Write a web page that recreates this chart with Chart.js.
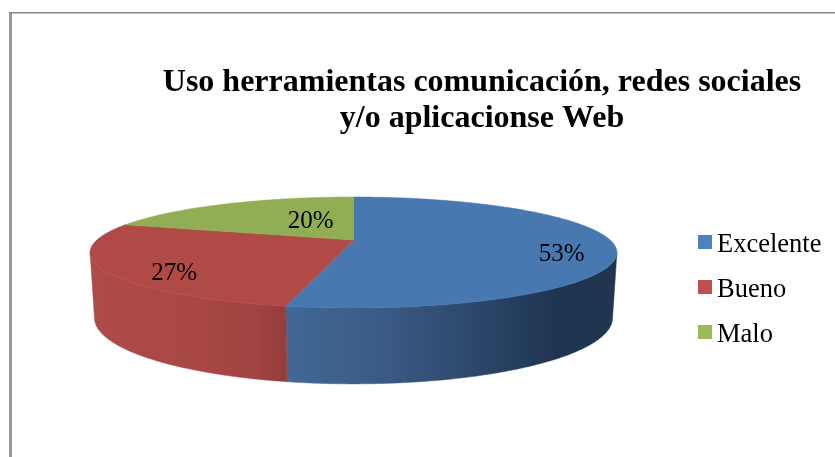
<!DOCTYPE html>
<html><head><meta charset="utf-8">
<style>html,body{margin:0;padding:0;background:#fff}canvas{display:block}</style>
<script src="https://cdn.jsdelivr.net/npm/chart.js@4"></script>
</head><body><canvas id="c" width="835" height="457"></canvas>
<script>
const categories = ["Excelente", "Bueno", "Malo"];
const values = [53.3, 26.7, 20];
const titleLines = ["Uso herramientas comunicación, redes sociales", "y/o aplicacionse Web"];
const legendColors = ["#4f81bd", "#c0504d", "#9bbb59"];
const faceColors = ["#4878b0", "#b04a47", "#92ae54"];
const sideStops = [
  [[0, "#426896"], [0.3, "#3a5a84"], [0.6, "#2b4568"], [0.82, "#1f344f"], [1, "#203650"]],
  [[0, "#ae4b48"], [0.5, "#aa4845"], [0.85, "#a04342"], [1, "#953d3b"]],
  [[0, "#7d9447"], [1, "#7d9447"]]
];
// perspective discs: top face and base of the drum
const topDisc = {cx: 353.5, y0: 240, A: 256.7, B: 52.7, a: 0.225};
const baseDisc = {cx: 353.5, y0: 303, A: 252.4, B: 62.7, a: 0.225};
const labelPlace = [{r: 0.8, dy: 10}, {r: 0.74, dy: 12}, {r: 0.3, dy: -6}];
const legendBox = {x: 698, top: 235, size: 14, step: 45, textX: 717, baseline: 252};

function project(d, ang, r) {
  const u = r * Math.cos(ang), s = r * Math.sin(ang), w = 1 - d.a * s;
  return [d.cx + d.A * u / w, d.y0 + d.B * s / w];
}
const pie3d = {
  id: "pie3d",
  beforeDraw(chart) {
    const g = chart.ctx;
    g.save();
    g.fillStyle = "#fff"; g.fillRect(0, 0, chart.width, chart.height);
    g.fillStyle = "#9a9a9a"; g.fillRect(9, 12, 3, chart.height - 12);
    g.fillStyle = "#8a8a8a"; g.fillRect(9, 12, chart.width - 9, 1.5);
    g.restore();
  },
  beforeDatasetDraw(chart) {
    const g = chart.ctx, arcs = chart.getDatasetMeta(0).data;
    const visA = Math.asin(topDisc.a), visB = Math.PI - visA;
    const step = Math.PI / 360;
    g.save();
    arcs.forEach((arc, i) => {
      const norm = x => { while (x < -Math.PI / 2 - 1e-9) x += 2 * Math.PI; return x; };
      const st = norm(arc.startAngle), en = st + (arc.endAngle - arc.startAngle);
      const ranges = [[visA, visB], [visA + 2 * Math.PI, visB + 2 * Math.PI]];
      ranges.forEach(([lo, hi]) => {
        const a0 = Math.max(st, lo), a1 = Math.min(en, hi);
        if (a1 <= a0) return;
        const pts = [], back = [];
        for (let t = a0; t < a1; t += step) { pts.push(project(topDisc, t, 1)); back.push(project(baseDisc, t, 1)); }
        pts.push(project(topDisc, a1, 1)); back.push(project(baseDisc, a1, 1));
        const xs = pts.concat(back).map(p => p[0]);
        const grad = g.createLinearGradient(Math.min(...xs), 0, Math.max(...xs), 0);
        sideStops[i].forEach(([o, c]) => grad.addColorStop(o, c));
        g.beginPath();
        pts.forEach((p, k) => k ? g.lineTo(p[0], p[1]) : g.moveTo(p[0], p[1]));
        back.reverse().forEach(p => g.lineTo(p[0], p[1]));
        g.closePath();
        g.fillStyle = grad; g.strokeStyle = grad; g.lineWidth = 0.5;
        g.fill(); g.stroke();
      });
    });
    arcs.forEach((arc, i) => {
      g.beginPath();
      const c = project(topDisc, 0, 0);
      g.moveTo(c[0], c[1]);
      for (let t = arc.startAngle; t < arc.endAngle; t += step) {
        const p = project(topDisc, t, 1); g.lineTo(p[0], p[1]);
      }
      const e = project(topDisc, arc.endAngle, 1); g.lineTo(e[0], e[1]);
      g.closePath();
      g.fillStyle = faceColors[i]; g.strokeStyle = faceColors[i]; g.lineWidth = 0.5;
      g.fill(); g.stroke();
    });
    g.fillStyle = "#000";
    g.font = "25px 'Liberation Serif'";
    g.textAlign = "center"; g.textBaseline = "middle";
    const total = values.reduce((a, b) => a + b, 0);
    arcs.forEach((arc, i) => {
      const p = project(topDisc, (arc.startAngle + arc.endAngle) / 2, labelPlace[i].r);
      g.fillText(Math.round(values[i] / total * 100) + "%", p[0], p[1] + labelPlace[i].dy);
    });
    g.restore();
    return false;
  },
  afterDraw(chart) {
    const g = chart.ctx, L = legendBox;
    g.save();
    g.font = "26.5px 'Liberation Serif'";
    g.textAlign = "left"; g.textBaseline = "alphabetic";
    categories.forEach((name, i) => {
      g.fillStyle = legendColors[i];
      g.fillRect(L.x, L.top + i * L.step, L.size, L.size);
      g.fillStyle = "#000";
      g.fillText(name, L.textX, L.baseline + i * L.step);
    });
    g.restore();
  }
};
new Chart(document.getElementById("c"), {
  type: "pie",
  data: {labels: categories, datasets: [{data: values, backgroundColor: legendColors, borderWidth: 0}]},
  options: {
    responsive: false, animation: false, devicePixelRatio: 1,
    layout: {padding: {left: 137, top: 64, bottom: 50, right: 8}},
    plugins: {
      tooltip: {enabled: false},
      title: {display: true, text: titleLines, color: "#000",
        font: {family: "'Liberation Serif'", size: 32, weight: "bold", lineHeight: 1.15}, padding: 0},
      legend: {display: false}
    }
  },
  plugins: [pie3d]
});
</script></body></html>
